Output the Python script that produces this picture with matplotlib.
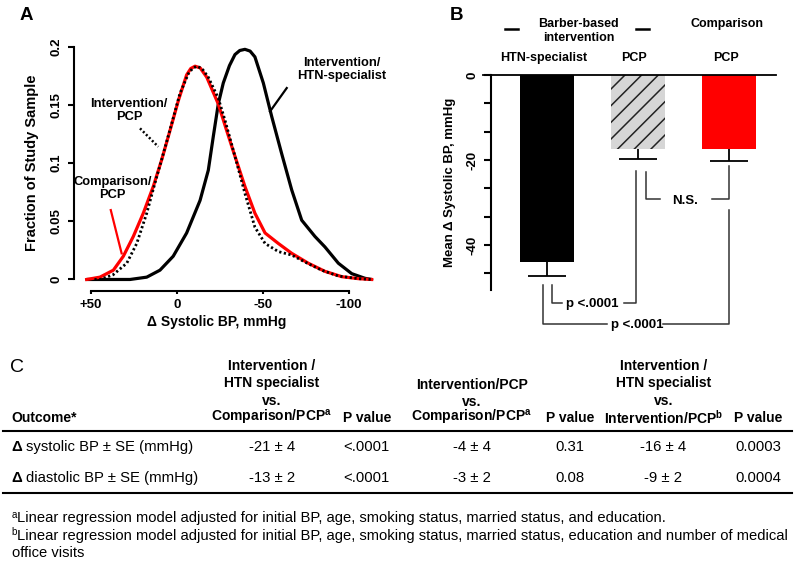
import matplotlib
matplotlib.use("Agg")
import matplotlib.pyplot as plt
import matplotlib.transforms as mtransforms
import numpy as np

plt.rcParams['font.family'] = ['Liberation Sans', 'DejaVu Sans']
plt.rcParams['mathtext.fontset'] = 'custom'
plt.rcParams['mathtext.rm'] = 'Liberation Sans'
plt.rcParams['mathtext.bf'] = 'Liberation Sans:bold'
plt.rcParams['hatch.linewidth'] = 1.1

# ---------------- Panel A data (density of change in systolic BP) ----------------
htn_x = [52.5, 27.3, 17.6, 9.9, 2.2, -5.6, -13.4, -18.2, -21.1, -24.0, -26.9, -30.5, -33.7,
         -36.5, -39.5, -42.5, -45.3, -50.2, -55.1, -60.9, -66.7, -72.5, -80.2, -86.0, -93.8,
         -101.6, -109.3, -113.2]
htn_y = [0.000, 0.000, 0.002, 0.008, 0.020, 0.040, 0.068, 0.094, 0.123, 0.151, 0.169, 0.184,
         0.1935, 0.197, 0.198, 0.1965, 0.1915, 0.169, 0.140, 0.108, 0.077, 0.051, 0.037, 0.028,
         0.014, 0.005, 0.001, 0.000]

cmp_x = [52.5, 44.8, 37.0, 31.2, 25.4, 19.6, 13.8, 8.9, 4.1, -0.8, -5.6, -8.0, -10.5, -13.5,
         -17.3, -24.0, -28.9, -33.7, -39.5, -45.3, -51.2, -58.9, -66.7, -76.3, -86.0, -95.8,
         -105.4, -113.2]
cmp_y = [0.000, 0.002, 0.008, 0.020, 0.037, 0.057, 0.080, 0.103, 0.128, 0.154, 0.176, 0.1815,
         0.1835, 0.182, 0.174, 0.151, 0.128, 0.106, 0.080, 0.057, 0.040, 0.031, 0.0225, 0.014,
         0.007, 0.0024, 0.0007, 0.000]

pcp_x = [48.0, 44.8, 37.2, 29.2, 23.4, 17.6, 12.8, 8.0, 3.1, -1.7, -6.6, -9.0, -11.5, -14.5,
         -18.2, -24.0, -27.9, -33.7, -39.5, -45.3, -51.2, -58.9, -66.7, -74.4, -84.1, -93.8,
         -105.4, -113.2]
pcp_y = [0.000, 0.000, 0.004, 0.014, 0.031, 0.057, 0.083, 0.108, 0.134, 0.160, 0.177, 0.1815,
         0.1835, 0.1815, 0.174, 0.156, 0.137, 0.106, 0.074, 0.045, 0.031, 0.024, 0.021, 0.015,
         0.008, 0.003, 0.0007, 0.000]

a_xticks = [50, 0, -50, -100]
a_xticklabels = ['+50', '0', '-50', '-100']
a_yticks = [0, 0.05, 0.1, 0.15, 0.2]
a_yticklabels = ['0', '0.05', '0.1', '0.15', '0.2']

# ---------------- Panel B data ----------------
b_groups = ['HTN-specialist', 'PCP', 'PCP']
b_means = [-43.9, -17.4, -17.4]
b_se = [3.3, 2.4, 2.8]

# ---------------- Panel C data ----------------
c_rows = ['systolic BP \u00b1 SE (mmHg)', 'diastolic BP \u00b1 SE (mmHg)']
c_col1 = ['-21 \u00b1 4', '-13 \u00b1 2']
c_p1 = ['<.0001', '<.0001']
c_col2 = ['-4 \u00b1 4', '-3 \u00b1 2']
c_p2 = ['0.31', '0.08']
c_col3 = ['-16 \u00b1 4', '-9 \u00b1 2']
c_p3 = ['0.0003', '0.0004']
foot_a = ('Linear regression model adjusted for initial BP, age, smoking status, '
          'married status, and education.')
foot_b = ('Linear regression model adjusted for initial BP, age, smoking status, '
          'married status, education and number of medical')
foot_b2 = 'office visits'

W, H = 800, 564
fig = plt.figure(figsize=(W / 100, H / 100), dpi=100)


def fx(px):
    return px / W


def fy(py):
    return 1 - py / H


# ======================= Panel A =======================
axA = fig.add_axes([fx(82.4), fy(291.1), (383.4 - 82.4) / W, (291.1 - 41.2) / H])
axA.set_xlim(55, -120)
axA.set_ylim(-0.01, 0.205)
axA.plot(htn_x, htn_y, color='black', lw=2.3, solid_capstyle='round')
axA.plot(cmp_x, cmp_y, color='#ff0000', lw=2.3)
axA.plot(pcp_x, pcp_y, color='black', lw=2.0, ls=(0, (0.8, 0.9)))
for s in ['top', 'right']:
    axA.spines[s].set_visible(False)
axA.spines['left'].set_position(('outward', 6))
axA.spines['left'].set_bounds(0, 0.2)
axA.spines['bottom'].set_bounds(-100, 50)
for s in ['left', 'bottom']:
    axA.spines[s].set_linewidth(1.5)
axA.set_xticks(a_xticks)
axA.set_xticklabels(a_xticklabels, fontsize=9.5, fontweight='bold')
axA.set_yticks(a_yticks)
axA.set_yticklabels(a_yticklabels, fontsize=9.5, fontweight='bold', rotation=90, va='center')
axA.tick_params(axis='y', length=4.5, width=1.5, pad=4)
axA.tick_params(axis='x', length=2.5, width=1.5, pad=3.5)
axA.set_xlabel('\u0394 Systolic BP, mmHg', fontsize=10, fontweight='bold')
axA.xaxis.set_label_coords(0.445, -0.125)
axA.xaxis.label.set_va('center')
axA.set_ylabel('Fraction of Study Sample', fontsize=10.5, fontweight='bold')
axA.yaxis.set_label_coords(-0.168, 0.513)
axA.yaxis.label.set_va('center')

# annotations in A
axA.text(-95.8, 0.1809, 'Intervention/\nHTN-specialist', ha='center', va='center',
         fontsize=9.3, fontweight='bold', linespacing=1.1)
axA.plot([-63.8, -54.1], [0.1647, 0.1446], color='black', lw=1.6, clip_on=False)
axA.text(27.9, 0.1452, 'Intervention/\nPCP', ha='center', va='center',
         fontsize=9.3, fontweight='bold', linespacing=1.1)
axA.plot([21.5, 10.9], [0.130, 0.1142], color='black', lw=1.8, ls=(0, (0.8, 0.9)), clip_on=False)
axA.text(37.5, 0.078, 'Comparison/\nPCP', ha='center', va='center',
         fontsize=9.3, fontweight='bold', linespacing=1.1)
axA.plot([38.5, 32.2], [0.0597, 0.0225], color='#ff0000', lw=1.6, clip_on=False)

fig.text(fx(26.7), fy(15), 'A', fontsize=13.5, fontweight='bold', ha='center', va='center')

# ======================= Panel B =======================
axB = fig.add_axes([fx(491), fy(290), (776 - 491) / W, (290 - 75) / H])
pos = np.arange(len(b_means))
axB.set_xlim(-0.615, 2.514)
axB.set_ylim(-50.6, 0)
colors = ['black', '#d6d6d6', '#ff0000']
axB.bar(pos, b_means, width=0.59, color=colors, edgecolor='none', zorder=2)
axB.bar(pos[1:2], b_means[1:2], width=0.59, facecolor='none', edgecolor='#222222',
        linewidth=0, hatch='//', zorder=3)
lows = np.array(b_means) - np.array(b_se)
axB.vlines(pos, lows, b_means, color='black', lw=1.3, zorder=4)
axB.hlines(lows, pos - 0.21, pos + 0.21, color='black', lw=1.3, zorder=4)
axB.plot([-0.703, 2.514], [0, 0], color='black', lw=1.3, clip_on=False, zorder=5)
for s in ['top', 'right', 'bottom']:
    axB.spines[s].set_visible(False)
axB.spines['left'].set_linewidth(1.5)
axB.set_xticks([])
yt = [-i * 20 / 3 for i in range(8)]
axB.set_yticks(yt)
axB.set_yticklabels(['0' if i == 0 else ('-20' if i == 3 else ('-40' if i == 6 else ''))
                     for i in range(8)], fontsize=9.5, fontweight='bold', rotation=90, va='center')
axB.tick_params(axis='y', length=4.8, width=1.5, pad=4)
axB.set_ylabel('Mean \u0394 Systolic BP, mmHg', fontsize=9.5, fontweight='bold')
axB.yaxis.set_label_coords(-0.144, 0.50)
axB.yaxis.label.set_va('center')

tB = mtransforms.blended_transform_factory(axB.transData, fig.transFigure)
for p, g in zip(pos, b_groups):
    axB.text(p - 0.04, fy(57.7), g, transform=tB, ha='center', va='center',
             fontsize=9, fontweight='bold')
axB.text(0.344, fy(31), 'Barber-based\nintervention', transform=tB, ha='center', va='center',
         fontsize=9, fontweight='bold', linespacing=1.15)
axB.text(1.98, fy(24), 'Comparison', transform=tB, ha='center', va='center',
         fontsize=9, fontweight='bold')
for x0, x1 in [(-0.46, -0.32), (0.977, 1.12)]:
    axB.plot([x0, x1], [fy(29.3), fy(29.3)], transform=tB, color='black', lw=1.8, clip_on=False)

bc = '#333333'
blw = 1.1
# N.S. bracket
axB.plot([1.083, 1.083, 1.24], [-22.9, -29.2, -29.2], color=bc, lw=blw, clip_on=False)
axB.plot([1.808, 2.0, 2.0], [-29.2, -29.2, -21.5], color=bc, lw=blw, clip_on=False)
axB.text(1.515, -29.6, 'N.S.', ha='center', va='center', fontsize=9.5, fontweight='bold')
# inner p bracket
axB.plot([0.051, 0.051, 0.161], [-49.4, -53.7, -53.7], color=bc, lw=blw, clip_on=False)
axB.plot([0.845, 0.973, 0.973], [-53.7, -53.7, -22.6], color=bc, lw=blw, clip_on=False)
axB.text(0.501, -53.8, 'p <.0001', ha='center', va='center', fontsize=9.5, fontweight='bold')
# outer p bracket
axB.plot([-0.048, -0.048, 0.655], [-49.4, -58.6, -58.6], color=bc, lw=blw, clip_on=False)
axB.plot([1.277, 2.0, 2.0], [-58.6, -58.6, -31.8], color=bc, lw=blw, clip_on=False)
axB.text(0.991, -58.9, 'p <.0001', ha='center', va='center', fontsize=9.5, fontweight='bold')

fig.text(fx(456.7), fy(15), 'B', fontsize=13.5, fontweight='bold', ha='center', va='center')

# ======================= Panel C (table) =======================
fig.text(fx(16.7), fy(368), 'C', fontsize=14, ha='center', va='center')
hfs = 10
sup_a = '$^{\\mathregular{a}}$'
sup_b = '$^{\\mathregular{b}}$'
col_x = [271.7, 366.7, 471.7, 570.0, 663.3, 758.3]
hdr = [
    (col_x[0], 366.5, 'Intervention /'), (col_x[0], 383.3, 'HTN specialist'),
    (col_x[0], 401.0, 'vs.'), (col_x[0], 417.7, 'Comparison/PCP' + sup_a),
    (col_x[1], 417.7, 'P value'),
    (col_x[2], 385.0, 'Intervention/PCP'), (col_x[2], 401.7, 'vs.'),
    (col_x[2], 417.7, 'Comparison/PCP' + sup_a),
    (col_x[3], 417.7, 'P value'),
    (col_x[4], 366.5, 'Intervention /'), (col_x[4], 383.3, 'HTN specialist'),
    (col_x[4], 401.0, 'vs.'), (col_x[4], 417.7, 'Intervention/PCP' + sup_b),
    (col_x[5], 417.7, 'P value'),
]
for x, y, t in hdr:
    fig.text(fx(x), fy(y), t, ha='center', va='center', fontsize=hfs, fontweight='bold')
fig.text(fx(11.7), fy(417.7), 'Outcome*', ha='left', va='center', fontsize=hfs, fontweight='bold')

fig.add_artist(plt.Line2D([fx(3), fx(792)], [fy(430.7), fy(430.7)], color='black', lw=1.5))
fig.add_artist(plt.Line2D([fx(3), fx(792)], [fy(493.3), fy(493.3)], color='black', lw=1.5))

row_y = [447.3, 478.3]
rfs = 10.7
for i, y in enumerate(row_y):
    fig.text(fx(11.7), fy(y), '\u0394', ha='left', va='center', fontsize=rfs, fontweight='bold')
    fig.text(fx(26.5), fy(y), c_rows[i], ha='left', va='center', fontsize=rfs)
    for x, col in zip(col_x, [c_col1, c_p1, c_col2, c_p2, c_col3, c_p3]):
        fig.text(fx(x), fy(y), col[i], ha='center', va='center', fontsize=rfs)

ffs = 10.6
fig.text(fx(11.5), fy(514.5), 'a', ha='left', va='center', fontsize=7)
fig.text(fx(17.0), fy(518.3), foot_a, ha='left', va='center', fontsize=ffs)
fig.text(fx(11.5), fy(531.9), 'b', ha='left', va='center', fontsize=7)
fig.text(fx(17.0), fy(535.7), foot_b, ha='left', va='center', fontsize=ffs)
fig.text(fx(11.7), fy(553.0), foot_b2, ha='left', va='center', fontsize=ffs)

fig.savefig('out.png', dpi=100)
